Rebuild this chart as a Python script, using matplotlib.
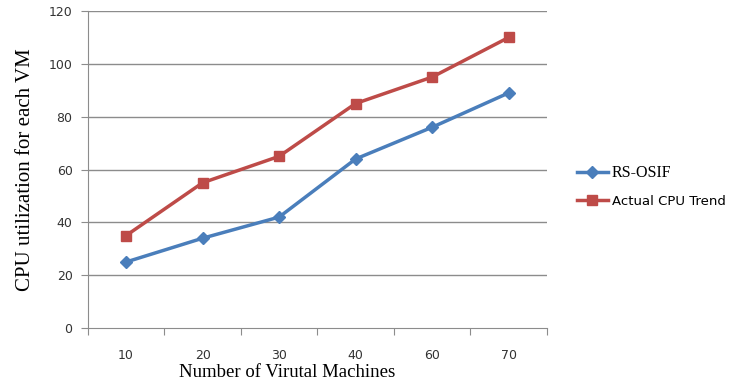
import matplotlib
matplotlib.use('Agg')
import matplotlib.pyplot as plt

# data
vm_counts = ['10', '20', '30', '40', '60', '70']
rs_osif = [25, 34, 42, 64, 76, 89]
actual_cpu = [35, 55, 65, 85, 95, 110]
y_ticks = [0, 20, 40, 60, 80, 100, 120]

fig = plt.figure(figsize=(7.38, 3.81), dpi=100)
ax = fig.add_axes([0.119, 0.139, 0.622, 0.832])

x = list(range(len(vm_counts)))
ax.plot(x, rs_osif, color='#4A7EBB', lw=2.5, marker='D', ms=6,
        label='RS-OSIF', zorder=3)
ax.plot(x, actual_cpu, color='#BE4B48', lw=2.5, marker='s', ms=7,
        label='Actual CPU Trend', zorder=3)

ax.set_xlim(-0.5, len(vm_counts) - 0.5)
ax.set_ylim(0, 120)
ax.set_yticks(y_ticks)
ax.set_yticklabels([str(v) for v in y_ticks], fontsize=9, color='#333333')
for v in y_ticks[1:]:
    ax.axhline(v, color='#8c8c8c', lw=1, zorder=1)

# category labels in the middle, tick marks on the boundaries (Excel style)
ax.set_xticks([i - 0.5 for i in range(len(vm_counts) + 1)])
ax.set_xticklabels([])
ax.set_xticks(x, minor=True)
ax.set_xticklabels(vm_counts, minor=True, fontsize=9, color='#333333')
ax.tick_params(axis='x', which='minor', length=0, pad=15)
ax.tick_params(axis='x', which='major', length=5, color='#8c8c8c', direction='out')
ax.tick_params(axis='y', length=5, color='#8c8c8c', direction='out', pad=6)

for s in ['top', 'right']:
    ax.spines[s].set_visible(False)
for s in ['left', 'bottom']:
    ax.spines[s].set_color('#8c8c8c')

ax.set_xlabel('Number of Virutal Machines', fontsize=13.5,
              family='Liberation Serif')
ax.xaxis.set_label_coords(0.434, -0.115)
ax.set_ylabel('CPU utilization for each VM', fontsize=15,
              family='Liberation Serif', labelpad=10)

leg = fig.legend(loc='center left', bbox_to_anchor=(0.765, 0.51),
                 frameon=False, handlelength=2.2, labelspacing=1.0,
                 handletextpad=0.3)
txts = leg.get_texts()
txts[0].set_fontfamily('Liberation Serif')
txts[0].set_fontsize(11.5)
txts[1].set_fontfamily('DejaVu Sans')
txts[1].set_fontsize(9.5)

fig.savefig('out.png', dpi=100)
